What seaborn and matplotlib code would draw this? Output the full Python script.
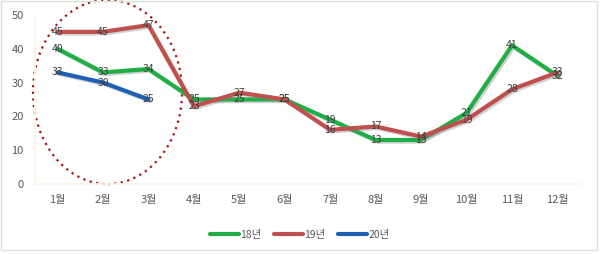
import matplotlib
matplotlib.use("Agg")
import matplotlib.pyplot as plt
import matplotlib.patheffects as pe
from matplotlib.patches import Ellipse, Rectangle
from matplotlib.lines import Line2D
import seaborn as sns
import pandas as pd

months = ["1월", "2월", "3월", "4월", "5월", "6월", "7월", "8월", "9월", "10월", "11월", "12월"]
y18 = [40, 33, 34, 25, 25, 25, 19, 13, 13, 21, 41, 32]
y19 = [45, 45, 47, 23, 27, 25, 16, 17, 14, 19, 28, 33]
y20 = [33, 30, 25]
series_names = ["18년", "19년", "20년"]
colors = ["#1fae45", "#c0504d", "#1f5fb4"]

sns.set_theme(style="white")
plt.rcParams['font.family'] = ['Noto Sans CJK KR', 'DejaVu Sans']

rows = []
for name, vals in zip(series_names, [y18, y19, y20]):
    for i, v in enumerate(vals):
        rows.append({"month": i, "value": v, "series": name})
df = pd.DataFrame(rows)

fig = plt.figure(figsize=(6.0, 2.54), dpi=100)
fig.patch.set_facecolor("white")
ax = fig.add_axes([0.058, 0.276, 0.909, 0.665])

sns.lineplot(data=df, x="month", y="value", hue="series", palette=colors,
             hue_order=series_names, linewidth=3.0, ax=ax, legend=False, sort=False)
for ln in ax.get_lines():
    ln.set_path_effects([pe.SimpleLineShadow(offset=(1.2, -1.2), shadow_color="gray", alpha=0.35),
                         pe.Normal()])
    ln.set_solid_joinstyle("miter")

for vals in [y18, y19, y20]:
    for i, v in enumerate(vals):
        ax.text(i, v, str(v), ha="center", va="center", fontsize=7.5, color="#404040")

ax.set_xlim(-0.5, 11.5)
ax.set_ylim(0, 50)
ax.set_yticks(range(0, 51, 10))
ax.set_xticks(range(12))
ax.set_xticklabels(months)
ax.tick_params(axis="both", labelsize=8, colors="#595959", length=0)
ax.tick_params(axis="x", pad=8)
ax.tick_params(axis="y", pad=8)
ax.set_xlabel("")
ax.set_ylabel("")
for s in ["top", "right"]:
    ax.spines[s].set_visible(False)
ax.spines["left"].set_color("#fbf5e6")
ax.spines["bottom"].set_color("#fbf5e6")

ell = Ellipse((1.1, 27.2), width=3.28, height=54.5, fill=False, edgecolor="#a31515",
              linestyle=(0, (1, 2)), linewidth=1.6, clip_on=False)
ax.add_patch(ell)

handles = [Line2D([0], [0], color=c, lw=3.0) for c in colors]
fig.legend(handles, series_names, loc="center", bbox_to_anchor=(0.5, 0.075), ncol=3,
           frameon=False, fontsize=7.5, handlelength=2.8, handletextpad=0.1,
           columnspacing=1.2, labelcolor="#595959")

fig.patches.append(Rectangle((0.002, 0.015), 0.993, 0.98, transform=fig.transFigure,
                             fill=False, edgecolor="#d5e3d5", linewidth=1))

fig.savefig("out.png", dpi=100)
